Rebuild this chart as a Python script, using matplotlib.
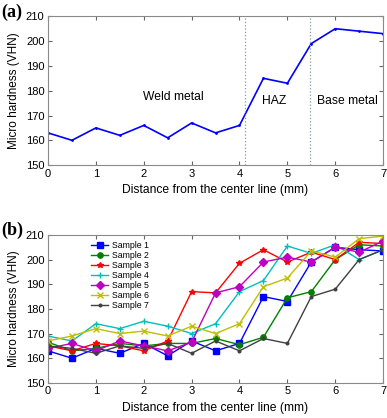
import numpy as np
import matplotlib
matplotlib.use("Agg")
import matplotlib.pyplot as plt

plt.rcParams["font.family"] = ["Liberation Sans", "DejaVu Sans"]

# distance from the center line (mm)
dist = np.arange(0, 7.01, 0.5)

# (a) average profile
hard_avg = [163, 160, 165, 162, 166, 161, 167, 163, 166, 185, 183, 199, 205, 204, 203]
zone_bounds = [4.12, 5.47]

# (b) individual samples
s1 = [163, 160, 164, 162, 166, 161, 167, 163, 166, 185, 183, 199, 205, 204, 203.5]
s2 = [166.5, 163, 164, 166, 165, 166, 166, 168, 165.5, 168.5, 184.5, 187, 200, 206, 205.5]
s3 = [165, 163, 166, 165, 163, 167, 187, 186.5, 198.5, 204, 199, 203, 200, 207, 206.5]
s4 = [169, 167, 174, 172, 175, 173, 170, 174, 187, 191.5, 205.5, 202.5, 206, 200, 204]
s5 = [164, 166, 163, 167, 165, 163, 166.5, 186.5, 189, 199, 201, 199, 205, 203, 207.5]
s6 = [167, 169, 172, 170, 171, 169, 173, 170, 174, 189, 192.5, 203.5, 201, 208.5, 209.5]
s7 = [165, 164, 162, 165, 164, 166, 162, 167, 163, 168, 166, 185, 188, 200, 204]
samples = [s1, s2, s3, s4, s5, s6, s7]
names = ["Sample 1", "Sample 2", "Sample 3", "Sample 4", "Sample 5", "Sample 6", "Sample 7"]
colors = ["#0000ff", "#008000", "#ff0000", "#00bfbf", "#bf00bf", "#bfbf00", "#404040"]
markers = ["s", "o", "*", "+", "D", "x", "."]


def style_axes(ax):
    ax.set_xlim(0, 7)
    ax.set_ylim(150, 210)
    ax.set_xticks(range(0, 8))
    ax.set_yticks(range(150, 211, 10))
    ax.tick_params(direction="in", top=True, right=True, labelsize=8.0, length=3,
                   color="#666666", pad=2.5)
    for sp in ax.spines.values():
        sp.set_color("#8a8a8a")
        sp.set_linewidth(0.8)
    ax.set_xlabel("Distance from the center line (mm)", fontsize=8.7, labelpad=4)
    ax.set_ylabel("Micro hardness (VHN)", fontsize=8.5, labelpad=4)


fig = plt.figure(figsize=(3.87, 4.18), dpi=100)

ax1 = fig.add_axes([0.124, 0.605, 0.866, 0.356])
ax1.plot(dist, hard_avg, "-", color="#0000ff", lw=1.2, marker=".", ms=2)
for xb in zone_bounds:
    ax1.axvline(xb, color="#8899a0", lw=0.9, ls=":")
ax1.text(2.61, 177.4, "Weld metal", fontsize=8.7, ha="center", va="center")
ax1.text(4.73, 176, "HAZ", fontsize=8.7, ha="center", va="center")
ax1.text(6.25, 176, "Base metal", fontsize=8.7, ha="center", va="center")
style_axes(ax1)
fig.text(0.003, 0.971, "(a)", fontsize=13, fontweight="bold",
         family=["Liberation Serif", "DejaVu Serif"], va="center")

ax2 = fig.add_axes([0.124, 0.084, 0.866, 0.354])
for vals, nm, c, m in zip(samples, names, colors, markers):
    ax2.plot(dist, vals, "-", color=c, marker=m, ms=3.8, lw=1.0, label=nm,
             markeredgewidth=1.0)
style_axes(ax2)
ax2.legend(loc="upper left", bbox_to_anchor=(0.125, 0.965), fontsize=6.3, frameon=False,
           handlelength=2.0, labelspacing=0.12, borderpad=0.1, handletextpad=0.4,
           borderaxespad=0)
fig.text(0.003, 0.449, "(b)", fontsize=13, fontweight="bold",
         family=["Liberation Serif", "DejaVu Serif"], va="center")

fig.savefig("out.png", dpi=100)
